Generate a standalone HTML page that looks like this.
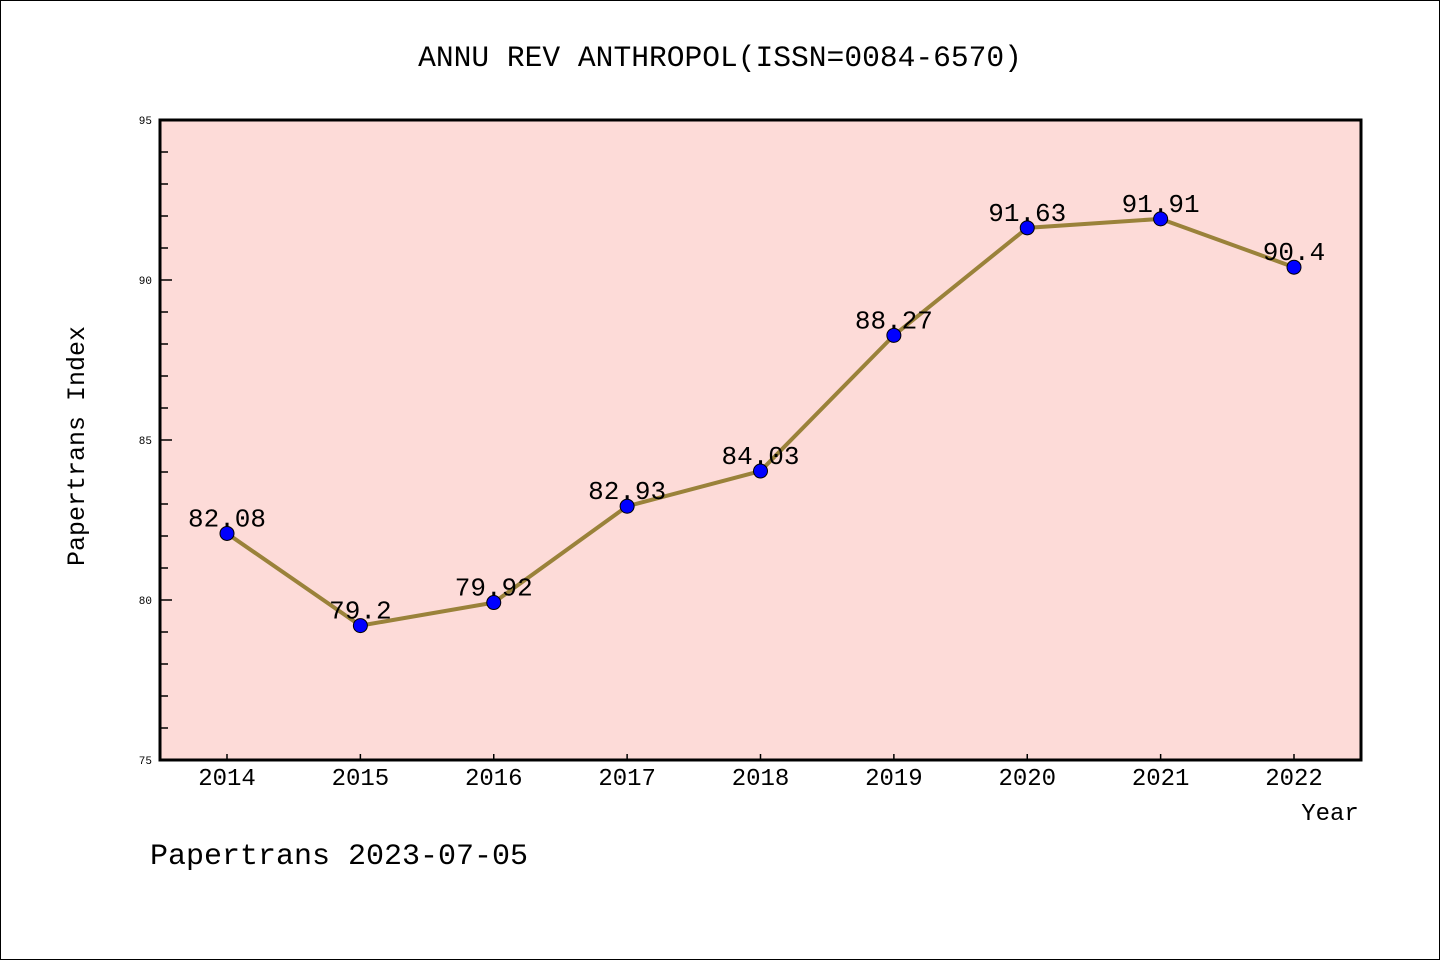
<!DOCTYPE html>
<html><head><meta charset="utf-8"><style>
body{margin:0;background:#fff;}
svg{display:block;font-family:"Liberation Mono","DejaVu Sans Mono",monospace;}
</style></head><body>
<svg id="chart" width="1440" height="960">
<rect x="0.5" y="0.5" width="1439" height="959" fill="#fff" stroke="#000"/>
<text x="720" y="66" font-size="29.6" text-anchor="middle">ANNU REV ANTHROPOL(ISSN=0084-6570)</text>
<rect x="160" y="120" width="1201" height="640" fill="#fddbd8"/>
<g id="axes"></g>
<g id="series"></g>
<rect x="160" y="120" width="1201" height="640" fill="none" stroke="#000" stroke-width="3"/>
<text x="1330" y="820" font-size="24" text-anchor="middle">Year</text>
<text transform="translate(84,446) rotate(-90)" font-size="25" text-anchor="middle">Papertrans Index</text>
<text x="150" y="864" font-size="30">Papertrans 2023-07-05</text>
</svg>
<script>
const years=["2014","2015","2016","2017","2018","2019","2020","2021","2022"];
const values=[82.08,79.2,79.92,82.93,84.03,88.27,91.63,91.91,90.4];
const labels=["82.08","79.2","79.92","82.93","84.03","88.27","91.63","91.91","90.4"];
const yTicks=[75,80,85,90,95];
const NS="http://www.w3.org/2000/svg";
const yMin=75,yMax=95,yTop=120,yBot=760,xFirst=227,xLast=1294;
const ys=v=>yBot-(v-yMin)/(yMax-yMin)*(yBot-yTop);
const xs=i=>xFirst+i*(xLast-xFirst)/(years.length-1);
function mk(t,a,p){const e=document.createElementNS(NS,t);for(const k in a)e.setAttribute(k,a[k]);p.appendChild(e);return e;}
const ax=document.getElementById('axes'),sr=document.getElementById('series');
for(let v=yMin;v<=yMax;v++){
 const major=yTicks.includes(v);
 const l=mk('line',{x1:160,x2:major?172:168,y1:ys(v),y2:ys(v),stroke:'#000','stroke-width':1.5},ax);
 
 
}
yTicks.forEach(v=>{
 const t=mk('text',{x:152,y:ys(v)+4,'font-size':11,'text-anchor':'end'},ax);t.textContent=v;
 
 
});
years.forEach((y,i)=>{
 const l=mk('line',{x1:xs(i),x2:xs(i),y1:yBot,y2:yBot-6,stroke:'#000','stroke-width':1.5},ax);
 
 
 const t=mk('text',{x:xs(i),y:785,'font-size':24,'text-anchor':'middle'},ax);t.textContent=y;
 
 
});
const pl=mk('polyline',{points:values.map((v,i)=>xs(i)+','+ys(v)).join(' '),fill:'none',stroke:'#9a823a','stroke-width':4},sr);


values.forEach((v,i)=>{
 const c=mk('circle',{cx:xs(i),cy:ys(v),r:7,fill:'#0000ff',stroke:'#000','stroke-width':1},sr);
 
 
 const t=mk('text',{x:xs(i),y:ys(v)-7,'font-size':26,'text-anchor':'middle'},sr);t.textContent=labels[i];
 
 
});
</script>
</body></html>
